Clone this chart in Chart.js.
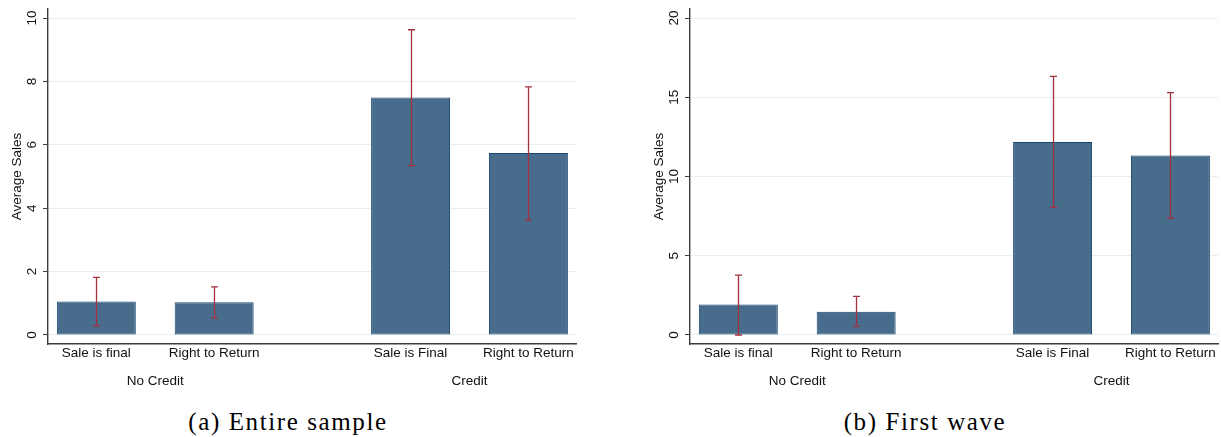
<!DOCTYPE html>
<html>
<head>
<meta charset="utf-8">
<script src="https://cdn.jsdelivr.net/npm/chart.js@4.4.1/dist/chart.umd.min.js"></script>
<style>
html, body { margin: 0; padding: 0; background: #fff; }
#wrap { position: relative; width: 1221px; height: 437px; overflow: hidden; background: #fff; }
canvas { position: absolute; top: 0; }
#c1 { left: 0; }
#c2 { left: 642px; }
.cap { position: absolute; top: 409px; font-family: "Liberation Serif", "Times New Roman", serif; font-size: 25px; line-height: 25px; color: #000; white-space: nowrap; transform: translateX(-50%); letter-spacing: 1.6px; }
</style>
</head>
<body>
<div id="wrap">
  <canvas id="c1" width="579" height="400"></canvas>
  <canvas id="c2" width="579" height="400"></canvas>
  <div class="cap" style="left:288px">(a) Entire sample</div>
  <div class="cap" style="left:925px">(b) First wave</div>
</div>
<script>
// ---- Categories ----
const groups = ['No Credit', 'Credit'];
const groupIndex = [0, 1];
const seriesNames = ['Sale is final', 'Right to Return'];
const saleLabels = ['Sale is final', 'Sale is Final'];
const returnLabels = ['Right to Return', 'Right to Return'];
const yTitle = 'Average Sales';

// ---- (a) Entire sample ----
const saleA = [1.06, 7.49];
const saleA_lo = [0.29, 5.34];
const saleA_hi = [1.82, 9.63];
const returnA = [1.03, 5.74];
const returnA_lo = [0.54, 3.63];
const returnA_hi = [1.52, 7.83];
const yTicksA = [0, 2, 4, 6, 8, 10];

// ---- (b) First wave ----
const saleB = [1.93, 12.18];
const saleB_lo = [0.0, 8.05];
const saleB_hi = [3.78, 16.32];
const returnB = [1.47, 11.32];
const returnB_lo = [0.55, 7.37];
const returnB_hi = [2.44, 15.29];
const yTicksB = [0, 5, 10, 15, 20];

// ---- Styles ----
const FONT = "'Liberation Sans', Arial, Helvetica, sans-serif";
const FONT_SIZE = 13.5;
const TEXT = '#111';
const BAR_FILL = '#486c8c';
const BAR_LINE = '#1a476f';
const ERR = '#a1313c';
const GRID = '#e5eef1';
const AXIS = '#3c3c3c';

function makeChart(id, sale, saleLo, saleHi, ret, retLo, retHi, yTicks, yPadFrac) {
  const yTop = yTicks[yTicks.length - 1];
  const yRange = yTop - yTicks[0];
  const lows = [saleLo, retLo];
  const highs = [saleHi, retHi];
  const barLabels = [saleLabels, returnLabels];

  const barStyle = {
    backgroundColor: BAR_FILL,
    borderColor: BAR_LINE,
    borderWidth: 1,
    borderSkipped: false,
    categoryPercentage: 0.75,
    barPercentage: 0.67
  };

  const plugin = {
    id: 'extras_' + id,
    afterDatasetsDraw(chart) {
      const ctx = chart.ctx, ys = chart.scales.y;
      ctx.save();
      ctx.strokeStyle = ERR;
      ctx.lineWidth = 1.3;
      chart.data.datasets.forEach((ds, d) => {
        chart.getDatasetMeta(d).data.forEach((el, i) => {
          const x = Math.round(el.x) + 0.5;
          const t = ys.getPixelForValue(highs[d][i]);
          const b = ys.getPixelForValue(lows[d][i]);
          ctx.beginPath();
          ctx.moveTo(x, t); ctx.lineTo(x, b);
          ctx.moveTo(x - 3.5, t); ctx.lineTo(x + 3.5, t);
          ctx.moveTo(x - 3.5, b); ctx.lineTo(x + 3.5, b);
          ctx.stroke();
        });
      });
      ctx.restore();
    },
    afterDraw(chart) {
      const ctx = chart.ctx, ys = chart.scales.y, area = chart.chartArea;
      ctx.save();
      ctx.fillStyle = TEXT;
      ctx.font = FONT_SIZE + 'px ' + FONT;
      // y tick labels, rotated
      ctx.textAlign = 'center';
      ctx.textBaseline = 'alphabetic';
      yTicks.forEach(v => {
        const py = ys.getPixelForValue(v);
        ctx.save();
        ctx.translate(ys.right - 12.3, py);
        ctx.rotate(-Math.PI / 2);
        ctx.fillText(String(v), 0, 0);
        ctx.restore();
      });
      // bar labels under each bar
      ctx.textBaseline = 'middle';
      chart.data.datasets.forEach((ds, d) => {
        chart.getDatasetMeta(d).data.forEach((el, i) => {
          ctx.fillText(barLabels[d][i], el.x, area.bottom + 9);
        });
      });
      ctx.restore();
    }
  };

  return new Chart(document.getElementById(id), {
    type: 'bar',
    data: {
      datasets: [
        Object.assign({ label: seriesNames[0], data: groupIndex.map((g, i) => ({ x: g, y: sale[i] })) }, barStyle),
        Object.assign({ label: seriesNames[1], data: groupIndex.map((g, i) => ({ x: g, y: ret[i] })) }, barStyle)
      ]
    },
    options: {
      responsive: false,
      animation: false,
      devicePixelRatio: 1,
      events: [],
      layout: { padding: { top: 9, left: 0, right: 3, bottom: 0 } },
      plugins: { legend: { display: false }, tooltip: { enabled: false }, title: { display: false }, colors: { enabled: false } },
      scales: {
        x: {
          type: 'linear',
          position: 'bottom',
          offset: false,
          min: -0.3413,
          max: 1.3389,
          afterBuildTicks: s => { s.ticks = groupIndex.map(v => ({ value: v })); },
          afterFit: s => { s.height = 56; },
          grid: { display: false, drawTicks: false, offset: false },
          border: { display: true, color: AXIS, width: 1.4 },
          ticks: {
            padding: 29,
            autoSkip: false,
            maxRotation: 0,
            color: TEXT,
            font: { family: FONT, size: FONT_SIZE },
            callback: (v, i) => groups[i]
          }
        },
        y: {
          type: 'linear',
          position: 'left',
          min: yTicks[0] - yRange * yPadFrac,
          max: yTop + yRange * yPadFrac,
          afterBuildTicks: s => { s.ticks = yTicks.map(v => ({ value: v })); },
          afterFit: s => { s.width = 48; },
          grid: { display: true, color: GRID, lineWidth: 1, drawTicks: true, tickLength: 5, tickColor: AXIS, tickWidth: 1 },
          border: { display: true, color: AXIS, width: 1.4 },
          ticks: { display: false },
          title: {
            display: true,
            text: yTitle,
            color: TEXT,
            font: { family: FONT, size: FONT_SIZE },
            padding: { top: 9, bottom: 0 }
          }
        }
      }
    },
    plugins: [plugin]
  });
}

makeChart('c1', saleA, saleA_lo, saleA_hi, returnA, returnA_lo, returnA_hi, yTicksA, 0.0284);
makeChart('c2', saleB, saleB_lo, saleB_hi, returnB, returnB_lo, returnB_hi, yTicksB, 0.0284);
</script>
</body>
</html>
